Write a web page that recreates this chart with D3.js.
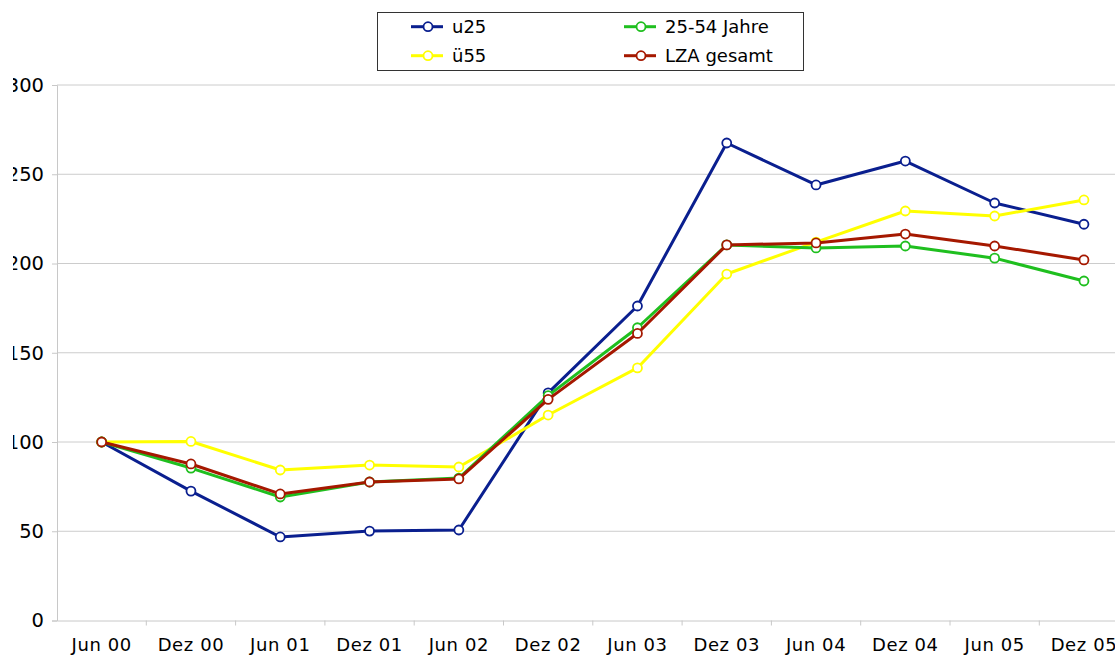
<!DOCTYPE html>
<html><head><meta charset="utf-8">
<script src="https://cdn.jsdelivr.net/npm/d3@7"></script>
<style>body{margin:0;background:#fff;overflow:hidden}svg{display:block}</style>
</head><body>
<svg id="c" width="1115" height="656"></svg>
<script>
const categories = ["Jun 00","Dez 00","Jun 01","Dez 01","Jun 02","Dez 02","Jun 03","Dez 03","Jun 04","Dez 04","Jun 05","Dez 05"];
const u25 =    [100, 72.5, 46.8, 50.1, 50.7, 127.5, 176.2, 267.5, 244.0, 257.4, 233.9, 222.0];
const mid =    [100, 85.4, 69.2, 77.6, 79.8, 126.0, 164.0, 210.4, 208.7, 209.8, 203.0, 190.2];
const ue55 =   [100, 100.3, 84.3, 87.1, 86.0, 115.1, 141.5, 194.1, 212.0, 229.4, 226.6, 235.6];
const lza =    [100, 87.7, 70.9, 77.6, 79.3, 123.9, 160.8, 210.4, 211.5, 216.5, 209.8, 202.0];
const yTicks = [0, 50, 100, 150, 200, 250, 300];
const seriesNames = ["u25", "25-54 Jahre", "ü55", "LZA gesamt"];
const seriesColors = ["#0a1f8f", "#1fbf1f", "#ffff00", "#a51800"];
const seriesValues = [u25, mid, ue55, lza];
const drawOrder = [0, 2, 1, 3];

const svg = d3.select("#c");
const font = "'DejaVu Sans', sans-serif";
const fs = 18;
const mLeft = 57, mTop = 85, mBottom = 620.5;
const bw = 89.3;
const x = d3.scaleBand().domain(categories).range([mLeft, mLeft + bw * categories.length]);
const y = d3.scaleLinear().domain([0, 300]).range([mBottom, mTop]);

svg.append("defs").append("clipPath").attr("id", "yclip").attr("clipPathUnits", "userSpaceOnUse")
  .append("rect").attr("x", 13).attr("y", 0).attr("width", 1200).attr("height", 700);

// gridlines
svg.append("g").selectAll("line").data(yTicks.filter(d => d > 0)).join("line")
  .attr("x1", mLeft).attr("x2", 1115).attr("y1", d => y(d)).attr("y2", d => y(d))
  .attr("stroke", "#cccccc").attr("stroke-width", 1);

// y axis
const ya = svg.append("g").attr("clip-path", "url(#yclip)").append("g")
  .attr("transform", `translate(${mLeft},0)`)
  .call(d3.axisLeft(y).tickValues(yTicks).tickSize(5).tickPadding(8));
ya.select(".domain").attr("stroke", "#c8c8c8");
ya.selectAll(".tick line").attr("stroke", "#c8c8c8");
ya.selectAll("text").attr("font-family", font).attr("font-size", 19.5).attr("fill", "#000");

// x axis
const xa = svg.append("g").attr("transform", `translate(0,${mBottom})`)
  .call(d3.axisBottom(x).tickSize(0).tickPadding(18));
xa.select(".domain").attr("stroke", "#c8c8c8");
xa.selectAll("text").attr("font-family", font).attr("font-size", fs).attr("fill", "#000")
  .attr("letter-spacing", 0.6);
svg.append("g").selectAll("line").data(categories).join("line")
  .attr("x1", d => x(d) + bw).attr("x2", d => x(d) + bw)
  .attr("y1", mBottom).attr("y2", mBottom + 5)
  .attr("stroke", "#c8c8c8");

const cx = (d, i) => x(categories[i]) + bw / 2;
const line = d3.line().x((d, i) => cx(d, i)).y(d => y(d));

drawOrder.forEach(s => {
  const g = svg.append("g");
  g.append("path").datum(seriesValues[s]).attr("d", line)
    .attr("fill", "none").attr("stroke", seriesColors[s]).attr("stroke-width", 3)
    .attr("stroke-linejoin", "round");
  g.selectAll("circle").data(seriesValues[s]).join("circle")
    .attr("cx", cx).attr("cy", d => y(d)).attr("r", 4.5)
    .attr("fill", "#fff").attr("stroke", seriesColors[s]).attr("stroke-width", 1.8);
});

// legend
const lg = svg.append("g");
lg.append("rect").attr("x", 377.5).attr("y", 12.5).attr("width", 426).attr("height", 58)
  .attr("fill", "#fff").attr("stroke", "#333").attr("stroke-width", 1);
const pos = [[411, 26.7], [624, 26.7], [411, 55.7], [624, 55.7]];
seriesNames.forEach((n, i) => {
  const [lx, ly] = pos[i];
  lg.append("line").attr("x1", lx).attr("x2", lx + 32).attr("y1", ly).attr("y2", ly)
    .attr("stroke", seriesColors[i]).attr("stroke-width", 3);
  lg.append("circle").attr("cx", lx + 17).attr("cy", ly).attr("r", 4.5)
    .attr("fill", "#fff").attr("stroke", seriesColors[i]).attr("stroke-width", 1.8);
  lg.append("text").attr("x", lx + 41).attr("y", ly).attr("dy", "0.36em")
    .attr("font-family", font).attr("font-size", fs).text(n);
});
</script>
</body></html>
